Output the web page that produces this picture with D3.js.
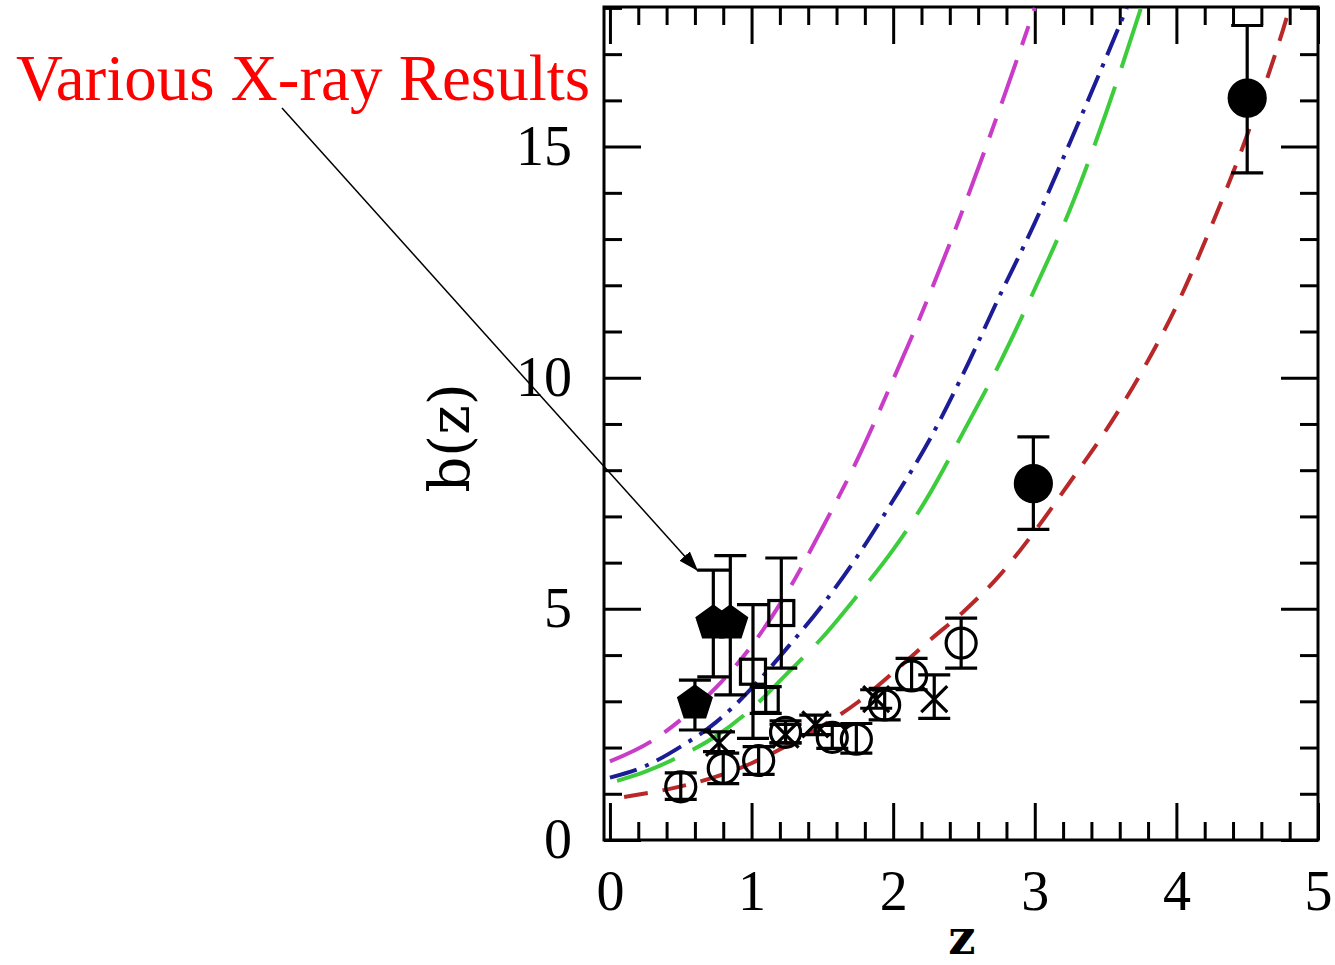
<!DOCTYPE html>
<html lang="en">
<head>
    <meta charset="UTF-8">
    <title>b(z)</title>
    <style>
        body { margin: 0; background: #fff; }
        .tick text { font-family: "Liberation Serif", serif; font-size: 56px; fill: #000; }
        .tick line { stroke: #000; stroke-width: 3; }
    </style>
</head>
<body>
    <div class="canvas"></div>

    <script src="https://d3js.org/d3.v7.min.js"></script>
    <script>
        // ---- data ----
        const xMajorTicks = [0, 1, 2, 3, 4, 5];
        const yMajorTicks = [0, 5, 10, 15];

        // model curves [z, b]
        const magentaCurve = [[0, 1.70], [0.3, 2.15], [0.5, 2.60], [0.75, 3.30], [1.0, 4.20], [1.25, 5.35], [1.5, 6.75],
            [1.75, 8.25], [2.0, 9.96], [2.25, 11.75], [2.5, 13.7], [2.75, 15.8], [3.0, 18.0]];
        const blueCurve = [[0, 1.35], [0.25, 1.60], [0.5, 2.02], [0.75, 2.55], [1.0, 3.28], [1.25, 4.15], [1.5, 5.08],
            [1.75, 6.15], [2.0, 7.35], [2.25, 8.62], [2.5, 10.12], [2.75, 11.76], [3.0, 13.35], [3.25, 15.1], [3.5, 16.9], [3.65, 18.0]];
        const greenCurve = [[0.05, 1.28], [0.25, 1.48], [0.5, 1.82], [0.75, 2.25], [1.0, 2.84], [1.25, 3.60], [1.5, 4.38],
            [1.75, 5.30], [2.0, 6.28], [2.25, 7.45], [2.5, 8.85], [2.75, 10.30], [3.0, 11.92], [3.25, 13.65], [3.5, 15.70], [3.75, 18.0]];
        const redCurve = [[0.1, 0.93], [0.5, 1.16], [0.75, 1.37], [1.0, 1.66], [1.25, 2.04], [1.5, 2.47], [1.75, 2.98],
            [2.0, 3.62], [2.25, 4.30], [2.5, 4.95], [2.75, 5.72], [3.0, 6.68], [3.25, 7.75], [3.5, 8.85], [3.75, 10.1],
            [4.0, 11.55], [4.25, 13.3], [4.5, 15.25], [4.75, 17.5], [4.8, 18.0]];

        // points [z, b, low, high]
        const openCircles = [[0.50, 1.15, 0.88, 1.45], [0.80, 1.55, 1.22, 1.88], [1.05, 1.72, 1.42, 2.02], [1.24, 2.33, 2.10, 2.58],
            [1.57, 2.22, 1.98, 2.48], [1.74, 2.18, 1.88, 2.52], [1.94, 2.92, 2.60, 3.28], [2.13, 3.55, 3.25, 3.93], [2.48, 4.26, 3.72, 4.80]];
        const crosses = [[0.77, 2.10, 1.91, 2.34], [1.24, 2.28, 2.10, 2.50], [1.45, 2.50, 2.28, 2.70], [1.88, 3.05, 2.85, 3.25],
            [2.29, 3.05, 2.63, 3.57]];
        const squares = [[1.21, 4.91, 3.72, 6.10], [1.01, 3.64, 2.20, 5.09], [1.10, 3.03, 2.74, 3.32]];
        const pentagons = [[0.60, 2.96, 2.38, 3.46], [0.73, 4.69, 3.53, 5.84], [0.85, 4.69, 3.14, 6.15]];
        const filledCircles = [[2.99, 7.71, 6.72, 8.72], [4.50, 16.05, 14.43, 17.62]];

        const annotation = "Various X-ray Results";

        // ---- layout ----
        const W = 1335, H = 965;
        const frame = { left: 604, right: 1318, top: 7, bottom: 840 };

        const svg = d3.select('.canvas')
            .append('svg')
            .attr('width', W)
            .attr('height', H);

        const x = d3.scaleLinear().domain([-0.042, 5]).range([frame.left, frame.right]);
        const y = d3.scaleLinear().domain([0, 18.02]).range([frame.bottom, frame.top]);

        const xMinor = d3.range(0, 5.001, 0.2).filter(v => Math.abs(v - Math.round(v)) > 0.01);
        const yMinor = d3.range(1, 18.5, 1).filter(v => v % 5 !== 0);

        // axes: ticks point inward on all four sides
        const addAxis = (axisFn, scale, vals, size, pos, labels, pad) => {
            const g = svg.append('g')
                .attr('transform', pos)
                .call(axisFn(scale).tickValues(vals).tickSize(-size).tickPadding(pad || 0)
                    .tickFormat(labels ? d3.format('d') : ''));
            g.select('.domain').remove();
            return g;
        };

        addAxis(d3.axisBottom, x, xMinor, 18, `translate(0,${frame.bottom})`);
        addAxis(d3.axisBottom, x, xMajorTicks, 37, `translate(0,${frame.bottom})`, true, 30);
        addAxis(d3.axisTop, x, xMinor, 18, `translate(0,${frame.top})`);
        addAxis(d3.axisTop, x, xMajorTicks, 37, `translate(0,${frame.top})`);
        addAxis(d3.axisLeft, y, yMinor, 18, `translate(${frame.left},0)`);
        addAxis(d3.axisLeft, y, yMajorTicks, 37, `translate(${frame.left},0)`, true, 32);
        addAxis(d3.axisRight, y, yMinor, 18, `translate(${frame.right},0)`);
        addAxis(d3.axisRight, y, yMajorTicks, 37, `translate(${frame.right},0)`);

        svg.append('rect')
            .attr('x', frame.left).attr('y', frame.top)
            .attr('width', frame.right - frame.left).attr('height', frame.bottom - frame.top)
            .attr('fill', 'none').attr('stroke', '#000').attr('stroke-width', 3);

        // axis titles
        svg.append('text')
            .attr('transform', 'translate(469,438) rotate(-90)')
            .attr('text-anchor', 'middle')
            .style('font-family', '"DejaVu Serif", serif')
            .style('font-size', '56px')
            .text('b(z)');

        svg.append('text')
            .attr('x', 962).attr('y', 954)
            .attr('text-anchor', 'middle')
            .style('font-family', '"DejaVu Serif", serif')
            .style('font-weight', 'bold')
            .style('font-size', '48px')
            .text('z');

        // ---- curves ----
        svg.append('clipPath').attr('id', 'plotClip')
            .append('rect')
            .attr('x', frame.left).attr('y', frame.top)
            .attr('width', frame.right - frame.left).attr('height', frame.bottom - frame.top);

        const line = d3.line()
            .x(d => x(d[0]))
            .y(d => y(d[1]))
            .curve(d3.curveMonotoneX);

        const curves = [
            { data: magentaCurve, color: '#c83cc8', dash: '46,16,20,16' },
            { data: blueCurve, color: '#1c1c96', dash: '28,9,4,9' },
            { data: greenCurve, color: '#3ccc3c', dash: '62,20' },
            { data: redCurve, color: '#b82828', dash: '24,15' }
        ];

        svg.append('g').attr('clip-path', 'url(#plotClip)')
            .selectAll('path')
            .data(curves)
            .enter()
            .append('path')
            .attr('d', d => line(d.data))
            .attr('fill', 'none')
            .attr('stroke', d => d.color)
            .attr('stroke-width', 4)
            .attr('stroke-dasharray', d => d.dash);

        // ---- points ----
        const pts = svg.append('g')
            .attr('stroke', '#000')
            .attr('stroke-width', 3.2);

        const cap = 16;
        const errorBars = (data) => {
            const g = pts.append('g');
            g.selectAll('.bar').data(data).enter().append('line')
                .attr('x1', d => x(d[0])).attr('x2', d => x(d[0]))
                .attr('y1', d => y(d[2])).attr('y2', d => y(d[3]));
            g.selectAll('.capLo').data(data).enter().append('line')
                .attr('x1', d => x(d[0]) - cap).attr('x2', d => x(d[0]) + cap)
                .attr('y1', d => y(d[2])).attr('y2', d => y(d[2]));
            g.selectAll('.capHi').data(data).enter().append('line')
                .attr('x1', d => x(d[0]) - cap).attr('x2', d => x(d[0]) + cap)
                .attr('y1', d => y(d[3])).attr('y2', d => y(d[3]));
        };

        [openCircles, crosses, squares, pentagons, filledCircles].forEach(errorBars);

        pts.selectAll('.oc').data(openCircles).enter().append('circle')
            .attr('cx', d => x(d[0])).attr('cy', d => y(d[1]))
            .attr('r', 15).attr('fill', 'none');

        pts.selectAll('.sq').data(squares).enter().append('rect')
            .attr('x', d => x(d[0]) - 12.5).attr('y', d => y(d[1]) - 12.5)
            .attr('width', 25).attr('height', 25).attr('fill', 'none');

        pts.selectAll('.cr').data(crosses).enter().append('path')
            .attr('d', d => {
                const cx = x(d[0]), cy = y(d[1]), s = 13;
                return `M${cx - s},${cy - s}L${cx + s},${cy + s}M${cx - s},${cy + s}L${cx + s},${cy - s}`;
            });

        const pentR = 17;
        const pentPath = d3.line().curve(d3.curveLinearClosed);
        pts.selectAll('.pe').data(pentagons).enter().append('path')
            .attr('d', d => pentPath(d3.range(5).map(i => {
                const a = -Math.PI / 2 + i * 2 * Math.PI / 5;
                return [x(d[0]) + pentR * Math.cos(a), y(d[1]) + pentR * Math.sin(a)];
            })))
            .attr('fill', '#000');

        pts.selectAll('.fc').data(filledCircles).enter().append('circle')
            .attr('cx', d => x(d[0])).attr('cy', d => y(d[1]))
            .attr('r', 18).attr('fill', '#000');

        // ---- annotation ----
        svg.append('defs').append('marker')
            .attr('id', 'head')
            .attr('markerUnits', 'userSpaceOnUse')
            .attr('markerWidth', 22).attr('markerHeight', 14)
            .attr('refX', 20).attr('refY', 7)
            .attr('orient', 'auto')
            .append('path')
            .attr('d', 'M0,0L20,7L0,14Z')
            .attr('fill', '#000');

        svg.append('line')
            .attr('x1', 282).attr('y1', 108)
            .attr('x2', 698).attr('y2', 571)
            .attr('stroke', '#000').attr('stroke-width', 1.5)
            .attr('marker-end', 'url(#head)');

        svg.append('text')
            .attr('x', 16).attr('y', 100)
            .attr('fill', '#ff0000')
            .style('font-family', '"Liberation Serif", serif')
            .style('font-size', '65px')
            .text(annotation);
    </script>
</body>
</html>
